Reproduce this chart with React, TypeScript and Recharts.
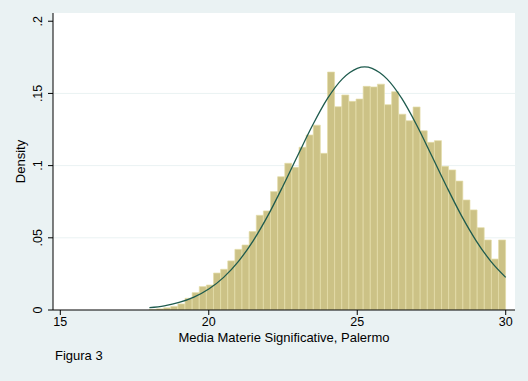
import React from 'react';
import { ComposedChart, Bar, Line, XAxis, YAxis, CartesianGrid, Label } from 'recharts';

const binCenters = [
  18.12, 18.36, 18.6, 18.84, 19.08, 19.32, 19.56, 19.8, 20.04, 20.28,
  20.52, 20.76, 21.0, 21.24, 21.48, 21.72, 21.96, 22.2, 22.44, 22.68,
  22.92, 23.16, 23.4, 23.64, 23.88, 24.12, 24.36, 24.6, 24.84, 25.08,
  25.32, 25.56, 25.8, 26.04, 26.28, 26.52, 26.76, 27.0, 27.24, 27.48,
  27.72, 27.96, 28.2, 28.44, 28.68, 28.92, 29.16, 29.4, 29.64, 29.88,
];
const binDensity = [
  0.0003, 0.0008, 0.0015, 0.0025, 0.0042, 0.0081, 0.012, 0.0162, 0.0173, 0.0256,
  0.0282, 0.034, 0.042, 0.045, 0.0543, 0.0656, 0.0686, 0.082, 0.0923, 0.1016,
  0.0988, 0.1127, 0.1212, 0.128, 0.1085, 0.1648, 0.1408, 0.1489, 0.1445, 0.1461,
  0.1549, 0.1545, 0.1564, 0.1422, 0.1512, 0.1356, 0.1311, 0.1406, 0.1241, 0.1161,
  0.1173, 0.0995, 0.097, 0.0893, 0.0762, 0.0693, 0.057, 0.0485, 0.0353, 0.0485,
];
const curveX = [
  18, 18.5, 19, 19.5, 20, 20.5, 21, 21.5, 22, 22.5, 23, 23.5, 24,
  24.5, 24.75, 25, 25.25, 25.5, 25.75, 26, 26.5, 27, 27.5, 28, 28.5, 29, 29.5, 30,
];
const curveDensity = [
  0.0016, 0.0029, 0.0052, 0.0089, 0.0145, 0.0226, 0.0337, 0.0481, 0.0657, 0.0859,
  0.1072, 0.1281, 0.1465, 0.1601, 0.1645, 0.1674, 0.1684, 0.1674, 0.1645, 0.1601,
  0.1465, 0.1281, 0.1072, 0.0859, 0.0657, 0.0481, 0.0337, 0.0226,
];
const xTicks = [15, 20, 25, 30];
const yTicks = [0, 0.05, 0.1, 0.15, 0.2];
const yTickLabels = ['0', '.05', '.1', '.15', '.2'];
const gridValues = [0.05, 0.1, 0.15];
const xTitle = 'Media Materie Significative, Palermo';
const yTitle = 'Density';
const note = 'Figura 3';

const barData = binCenters.map((x, i) => ({ x, d: binDensity[i] }));
const curveData = curveX.map((cx, i) => ({ cx, c: curveDensity[i] }));

const FONT = '"Liberation Sans", Arial, Helvetica, sans-serif';
const BG = '#EAF2F3';
const X_DOMAIN: [number, number] = [14.754, 30.313];

const YTick = (props: any) => {
  const { y, payload } = props;
  const idx = yTicks.findIndex((v) => Math.abs(v - payload.value) < 1e-9);
  const label = idx >= 0 ? yTickLabels[idx] : String(payload.value);
  return (
    <text
      transform={`translate(42,${y}) rotate(-90)`}
      textAnchor="middle"
      fontSize={12.5}
      fontFamily={FONT}
      fill="#000"
    >
      {label}
    </text>
  );
};

const XTick = (props: any) => {
  const { x, y, payload } = props;
  return (
    <text x={x} y={y + 9} textAnchor="middle" fontSize={12.5} fontFamily={FONT} fill="#000">
      {payload.value}
    </text>
  );
};

export default function App() {
  return (
    <div style={{ position: 'absolute', left: 0, top: 0, width: 528, height: 381, background: BG }}>
      <ComposedChart
        width={528}
        height={381}
        data={barData}
        margin={{ top: 13, right: 13, bottom: 0, left: 0 }}
        barCategoryGap={0}
        barGap={0}
      >
        <CartesianGrid
          vertical={false}
          horizontalValues={gridValues}
          stroke={BG}
          fill="#ffffff"
          fillOpacity={1}
        />
        <XAxis
          dataKey="x"
          type="number"
          domain={X_DOMAIN}
          allowDataOverflow
          ticks={xTicks}
          interval={0}
          height={71}
          tickSize={5}
          tickMargin={2}
          stroke="#000"
          tick={<XTick />}
        >
          <Label
            content={() => (
              <g>
                <text x={284} y={342} textAnchor="middle" fontSize={13} fontFamily={FONT} fill="#000">
                  {xTitle}
                </text>
                <text x={55} y={360} textAnchor="start" fontSize={13} fontFamily={FONT} fill="#000">
                  {note}
                </text>
              </g>
            )}
          />
        </XAxis>
        <XAxis
          xAxisId="c"
          dataKey="cx"
          type="number"
          domain={X_DOMAIN}
          allowDataOverflow
          hide
        />
        <YAxis
          type="number"
          domain={[0, 0.2057]}
          allowDataOverflow
          ticks={yTicks}
          interval={0}
          width={53}
          tickSize={5}
          stroke="#000"
          tick={<YTick />}
        >
          <Label
            content={() => (
              <text
                transform="translate(25,161.5) rotate(-90)"
                textAnchor="middle"
                fontSize={13}
                fontFamily={FONT}
                fill="#000"
              >
                {yTitle}
              </text>
            )}
          />
        </YAxis>
        <Bar
          dataKey="d"
          fill="#CCC286"
          stroke="#E4DDA8"
          strokeWidth={0.7}
          isAnimationActive={false}
        />
        <Line
          xAxisId="c"
          data={curveData}
          dataKey="c"
          type="monotone"
          dot={false}
          stroke="#1E5B4E"
          strokeWidth={1.3}
          isAnimationActive={false}
        />
      </ComposedChart>
    </div>
  );
}
